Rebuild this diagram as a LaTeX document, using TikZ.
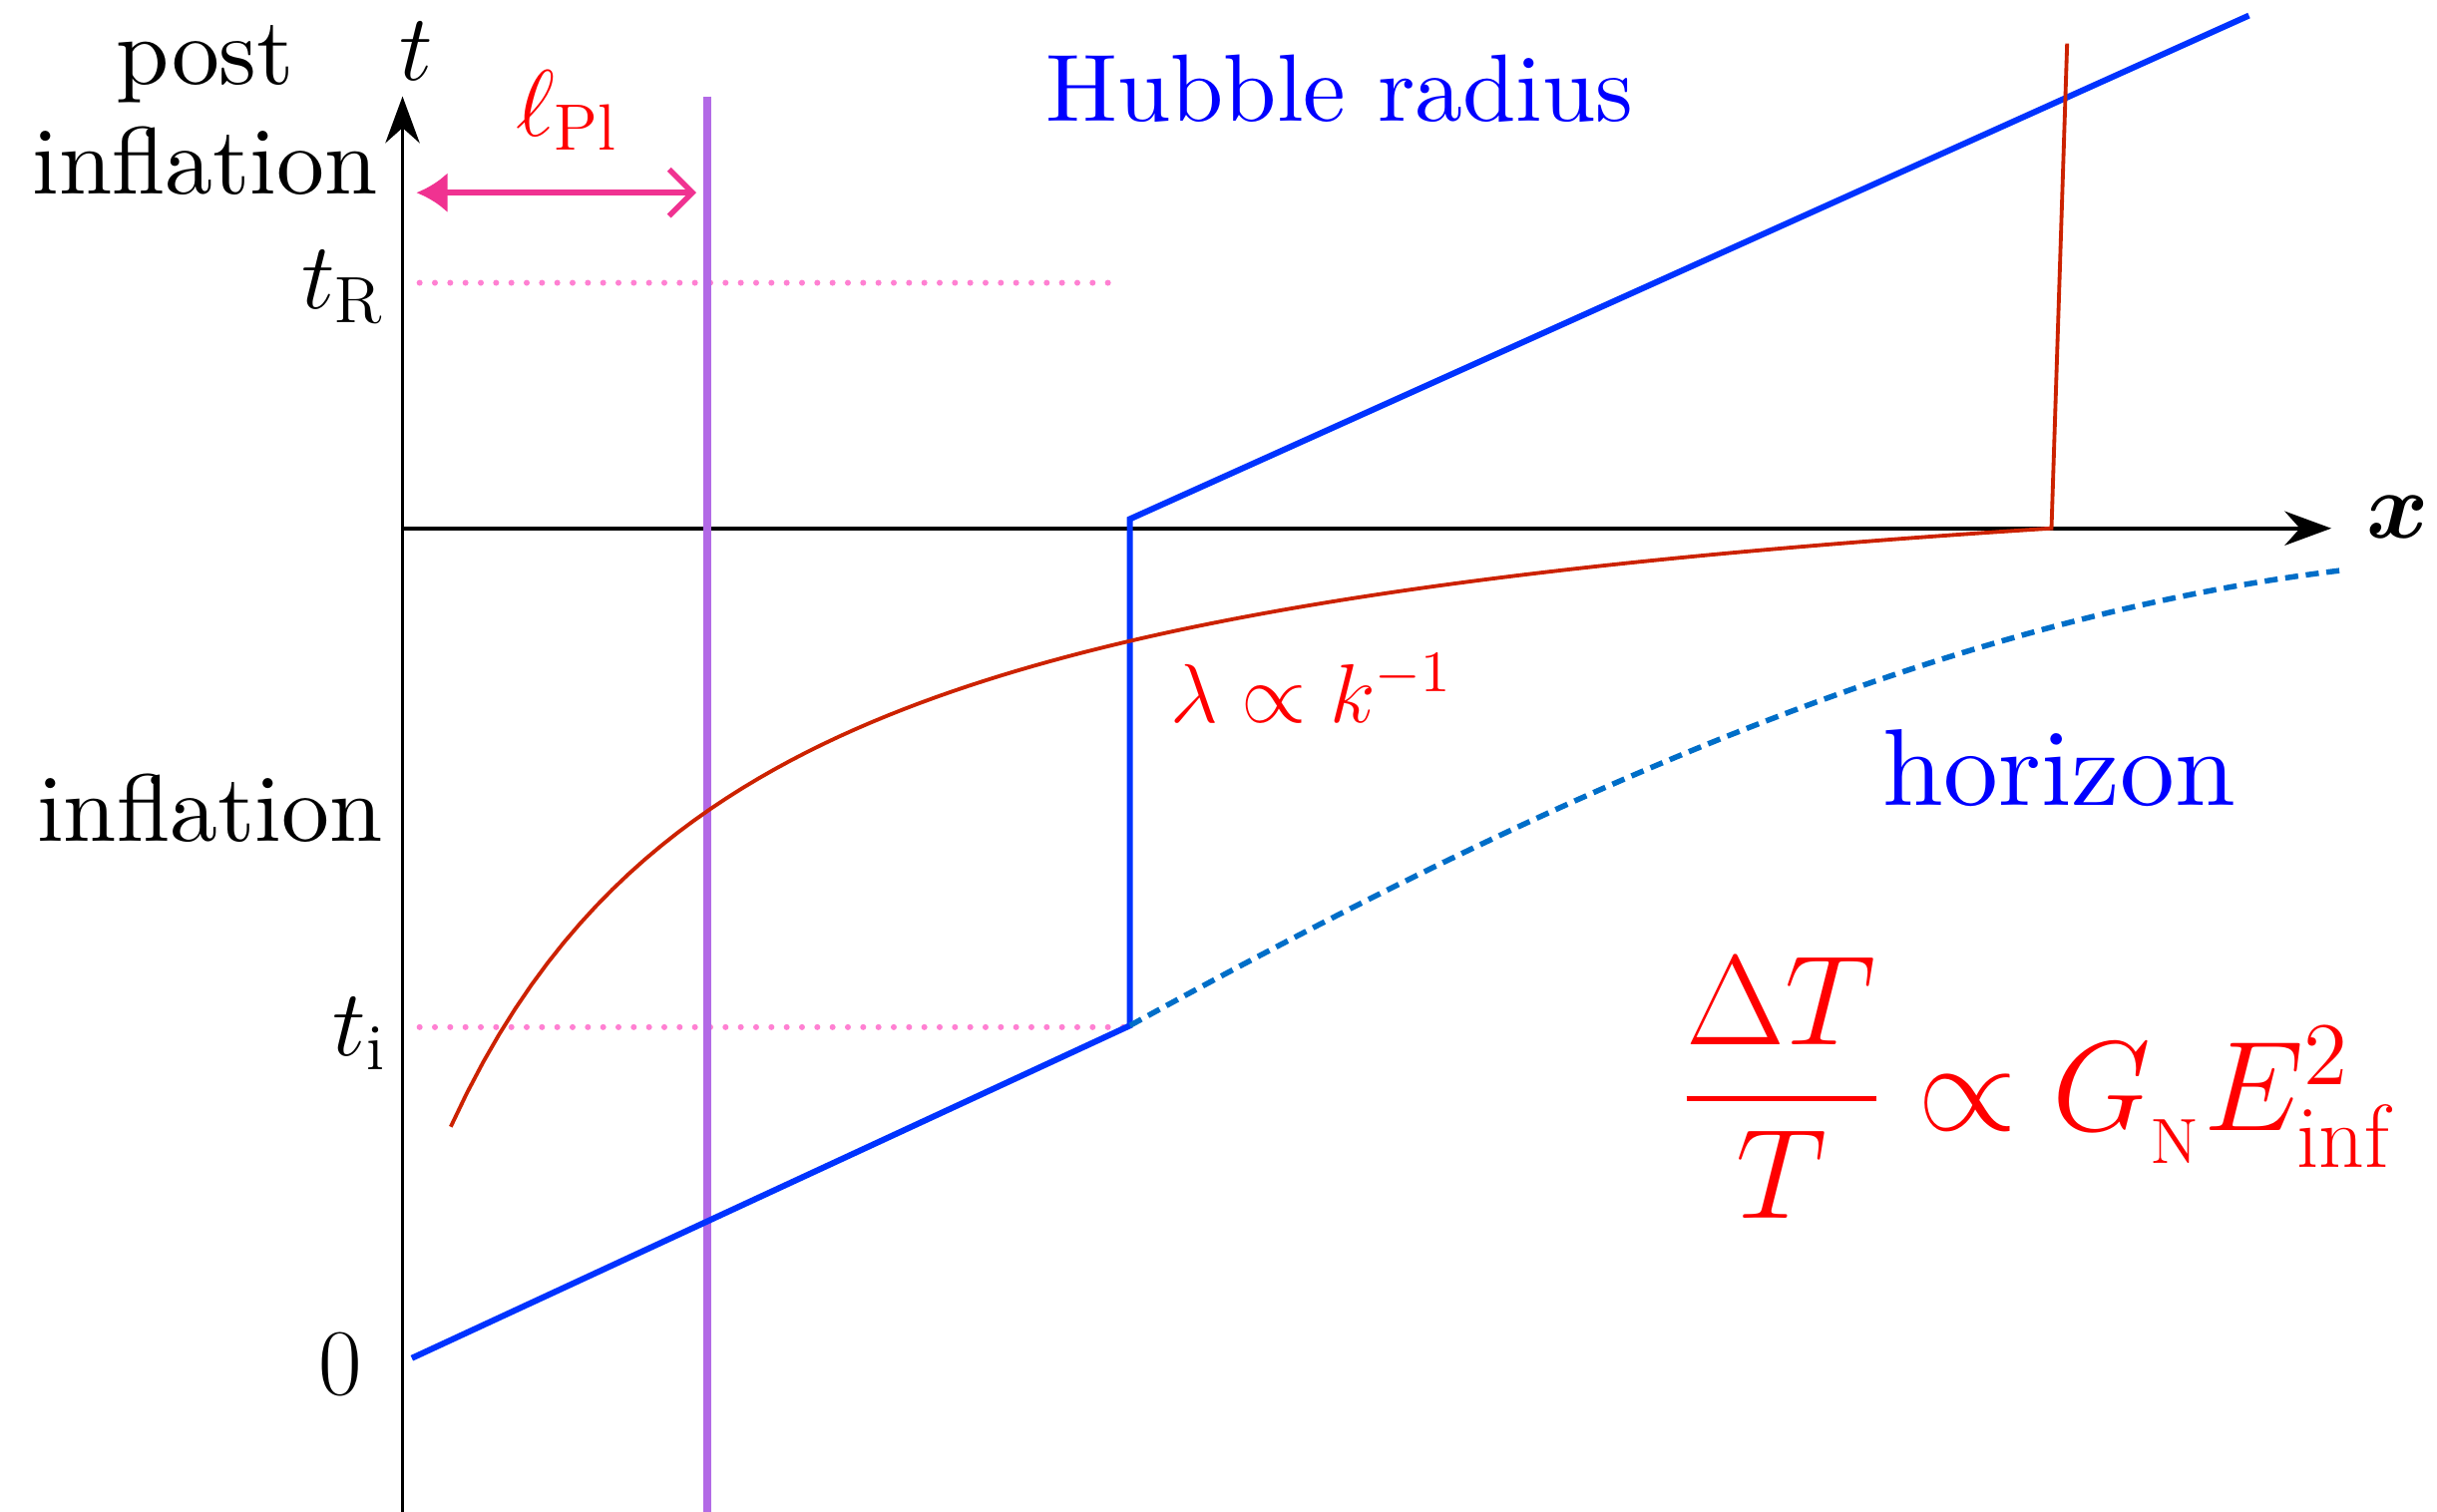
\RequirePackage{fix-cm}
\documentclass[tikz,border=0pt]{standalone}
\usepackage{amsmath,amssymb}
\usepackage{fontspec}
\usepackage{tikz}
\usetikzlibrary{arrows.meta,calc}
\newfontfamily\tenrm{lmroman10-regular.otf}
\definecolor{hubblue}{RGB}{0,51,255}
\definecolor{horblue}{RGB}{0,110,200}
\definecolor{modered}{RGB}{204,34,0}
\definecolor{plkpurple}{RGB}{178,106,230}
\definecolor{guidepink}{RGB}{255,128,210}
\definecolor{arrpink}{RGB}{240,50,145}
\tikzset{
  axisln/.style={-{Stealth[length=3mm,width=2.2mm]},line width=0.7pt},
  hubln/.style={hubblue,line width=1.1pt},
  hordash/.style={horblue,line width=1pt,dash pattern=on 2.4pt off 1.4pt},
  modeln/.style={modered,line width=0.7pt},
  plkln/.style={plkpurple,line width=1.6pt},
  guide/.style={guidepink,line width=1.1pt,dash pattern=on 0pt off 2.8pt,line cap=round},
  lenarr/.style={{Latex[length=2mm,width=2.6mm]}-{Straight Barb[length=1.5mm,width=3mm]},arrpink,line width=1pt},
  lbl/.style={font=\fontsize{17.28}{20}\selectfont,inner sep=1pt},
  word/.style={font=\tenrm\fontsize{17.5}{20}\selectfont,inner sep=1pt},
}
\begin{document}
\begin{tikzpicture}
  \useasboundingbox (-2.59,-6.33) rectangle (13.09,3.40);
  % axes
  \coordinate (tbot) at (0,-6.33);
  \coordinate (ttip) at (0,2.78);
  \coordinate (O) at (0,0);
  \coordinate (xtip) at (12.41,0);
  \draw[axisln] (tbot) -- (ttip);
  \draw[axisln] (O) -- (xtip);
  \node[lbl] (tlab) at (0.09,3.07) {$t$};
  \node[lbl] (xlab) at (12.84,0.07) {$\boldsymbol{x}$};
  % marked times
  \node[lbl,anchor=east] (tR) at (-0.07,1.55) {$t_{\mathrm{R}}$};
  \node[lbl,anchor=east] (ti) at (-0.06,-3.25) {$t_{\mathrm{i}}$};
  \node[lbl,anchor=east] (t0) at (-0.22,-5.38) {$0$};
  \coordinate (Rl) at (0.11,1.58);  \coordinate (Rr) at (4.59,1.58);
  \coordinate (il) at (0.11,-3.21); \coordinate (ir) at (4.66,-3.21);
  \draw[guide] (Rl) -- (Rr);
  \draw[guide] (il) -- (ir);
  % eras
  \node[word,align=center] (post) at (-1.27,2.69) {post\\inflation};
  \node[word] (infl) at (-1.24,-1.80) {inflation};
  % Planck length
  \coordinate (ptop) at (1.96,2.78);
  \coordinate (pbot) at (1.96,-6.33);
  \draw[plkln] (ptop) -- (pbot);
  \coordinate (al) at (0.09,2.16);
  \coordinate (ar) at (1.89,2.16);
  \draw[lenarr] (al) -- (ar);
  \node[lbl,text=red] (lpl) at (1.06,2.69) {$\ell_{\mathrm{Pl}}$};
  % Hubble radius
  \coordinate (h0) at (0.06,-5.34);
  \coordinate (hi) at (4.68,-3.20);
  \coordinate (hR) at (4.68,0.06);
  \coordinate (hend) at (11.88,3.30);
  \draw[hubln] (h0) -- (hi) -- (hR) -- (hend);
  \node[word,text=blue] (hub) at (6.03,2.83) {Hubble radius};
  % horizon
  \coordinate (hzend) at (12.48,-0.27);
  \draw[hordash] (hi) .. controls (7.28,-1.77) and (9.88,-0.58) .. (hzend);
  \node[word,font=\tenrm\fontsize{20}{24}\selectfont,text=blue] (hor) at (10.66,-1.54) {horizon};
  % mode wavelength
  \coordinate (mtop) at (10.71,3.12);
  \draw[modeln] plot[domain=0.31:10.61,samples=100] (\x,{0.794-9.864/(\x+1.8135)}) -- (mtop);
  \node[lbl,font=\fontsize{15.3}{18}\selectfont,text=red] (lam) at (5.85,-1.03) {$\lambda\propto k^{-1}$};
  \node[font=\fontsize{23.4}{27}\selectfont,text=red,inner sep=1pt] (dT) at (10.51,-3.60)
    {$\dfrac{\Delta T}{T}\propto G_{_{\mathrm{N}}}E^{2}_{\mathrm{inf}}$};
\end{tikzpicture}
\end{document}
